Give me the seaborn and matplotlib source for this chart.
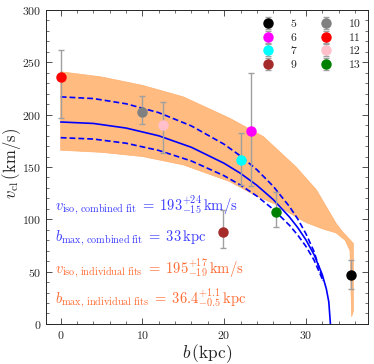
import numpy as np
import matplotlib
matplotlib.use("Agg")
import matplotlib.pyplot as plt
import seaborn as sns

# -----------------------------
# data
# -----------------------------
labels = ["5", "6", "7", "9", "10", "11", "12", "13"]
colors = ["black", "magenta", "cyan", "brown", "gray", "red", "pink", "green"]
b_pts = [35.5, 23.3, 22.0, 19.8, 9.9, 0.0, 12.5, 26.3]
v_pts = [47, 184, 157, 88, 203, 236, 190, 107]
v_lo = [33, 132, 133, 73, 191, 197, 163, 93]
v_hi = [61, 240, 182, 109, 218, 262, 212, 126]

# combined fit (solid) and its range (dashed)
b_fit = [0, 4, 8, 12, 16, 20, 22, 24, 26, 28, 29, 30, 31, 32, 32.5, 32.8, 33]
v_fit = [193, 191.6, 187.2, 179.8, 168.8, 153.5, 143.9, 132.5, 118.9, 102.1,
         92.1, 80.4, 66.2, 47.2, 33.5, 21.2, 0]
b_dash = [0, 4, 8, 12, 16, 20, 22, 24, 26, 28, 29, 30, 31, 32.1]
v_dash_hi = [217, 215.4, 210.4, 201.9, 189.2, 171.7, 160.5, 147.4, 131.6,
             112.1, 100.3, 86.3, 69.1, 41.4]
v_dash_lo = [178, 176.7, 172.7, 165.8, 155.7, 141.6, 132.7, 122.2, 109.6,
             94.2, 84.9, 74.2, 61.0, 41.3]

# individual fits band
b_band_hi = [0, 5, 10, 15, 20.7, 24.8, 28.8, 31.3, 32.5, 33.7, 34.5, 35.8, 35.8, 35.6]
v_band_hi = [241, 236, 228, 217, 196.5, 179, 150, 128, 112, 96, 88, 77, 12, 7]
b_band_lo = [0, 5, 10, 15, 20.7, 24, 26.4, 28, 30, 32, 33.7, 34.8, 35.4, 35.6]
v_band_lo = [166, 164, 160, 152, 136, 122, 114, 106, 97, 91, 87, 80, 70, 7]

# -----------------------------
# style
# -----------------------------
sns.set_style("ticks")
plt.rcParams["font.family"] = ["serif"]
plt.rcParams["font.serif"] = ["cmr10", "DejaVu Serif"]
plt.rcParams["mathtext.fontset"] = "cm"
plt.rcParams["axes.formatter.use_mathtext"] = True

fig = plt.figure(figsize=(3.74, 3.64), dpi=100)
ax = fig.add_axes([0.123, 0.110, 0.861, 0.8625])

# band
band_x = b_band_hi + b_band_lo[::-1]
band_y = v_band_hi + v_band_lo[::-1]
ax.fill(band_x, band_y, color="#ffbb80", ec="#ffb070", lw=0.5, zorder=1)

# fit curves
sns.lineplot(x=b_fit, y=v_fit, ax=ax, color="blue", lw=1.2, sort=False, zorder=3)
for vv in (v_dash_hi, v_dash_lo):
    sns.lineplot(x=b_dash, y=vv, ax=ax, color="blue", lw=1.2, sort=False,
                 dashes=(3.5, 1.8), zorder=3)

# data points
for lab, c, x, y, lo, hi in zip(labels, colors, b_pts, v_pts, v_lo, v_hi):
    ax.errorbar(x, y, yerr=[[y - lo], [hi - y]], fmt="o", color=c, ms=6.5,
                ecolor="#a0a0a0", elinewidth=1, capsize=2.5, capthick=1,
                label=lab, zorder=4)

# annotations
blue = "#3b3bff"
orange = "#ff6a30"
fs = 10.5
ax.text(-0.7, 113, r"$v_{\rm iso,\,combined\;fit}\;=\;\mathsf{193}^{+24}_{-15}\,\rm km/s$",
        color=blue, fontsize=fs, va="center")
ax.text(-0.7, 82, r"$b_{\rm max,\,combined\;fit}\;=\;33\,\rm kpc$",
        color=blue, fontsize=fs, va="center")
ax.text(-0.7, 53, r"$v_{\rm iso,\,individual\;fits}\;=\;\mathsf{195}^{+17}_{-19}\,\rm km/s$",
        color=orange, fontsize=fs, va="center")
ax.text(-0.7, 25, r"$b_{\rm max,\,individual\;fits}\;=\;\mathsf{36.4}^{+1.1}_{-0.5}\,\rm kpc$",
        color=orange, fontsize=fs, va="center")

ax.legend(ncol=2, loc="upper right", frameon=False, fontsize=8.5,
          handletextpad=0.9, columnspacing=1.5, labelspacing=0.28,
          borderaxespad=0.1, bbox_to_anchor=(0.995, 0.99))

ax.set_xlim(-1.8, 37.6)
ax.set_ylim(0, 300)
ax.set_xticks([0, 10, 20, 30])
ax.set_xticks(np.arange(0, 38, 2), minor=True)
ax.set_yticks(np.arange(0, 301, 50))
ax.set_yticks(np.arange(0, 301, 10), minor=True)
ax.tick_params(which="both", direction="in", top=True, right=True,
               labelsize=8.5, color="#333333")
ax.tick_params(which="major", length=4, width=0.6)
ax.tick_params(which="minor", length=2, width=0.5)
for s in ax.spines.values():
    s.set_linewidth(0.7)

ax.set_xlabel(r"$b\,(\rm kpc)$", fontsize=12.5, labelpad=1)
ax.set_ylabel(r"$v_{\rm cl}\,(\rm km/s)$", fontsize=12)
ax.yaxis.set_label_coords(-0.07, 0.51)

fig.savefig("out.png", dpi=100)
